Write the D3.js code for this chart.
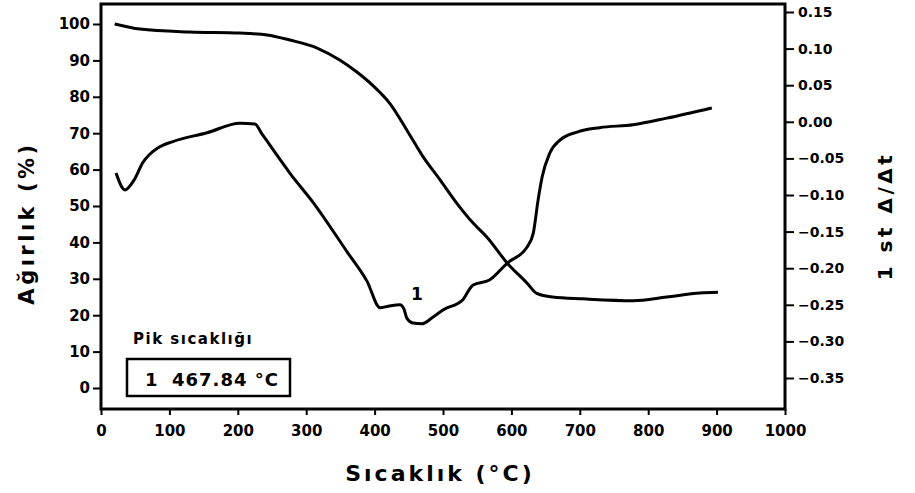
<!DOCTYPE html>
<html>
<head>
<meta charset="utf-8">
<script src="https://cdn.jsdelivr.net/npm/d3@7"></script>
<style>
  body { margin: 0; background: #fff; }
  svg text { font-family: "DejaVu Sans", sans-serif; font-weight: bold; fill: #000; }
</style>
</head>
<body>
<div id="chart"></div>
<script>
// weight loss curve (TG), % vs temperature
const tgTemp = [20, 57, 130, 203, 243, 276, 316, 349, 374, 398, 423, 447, 471, 496, 520, 544, 564, 594, 623, 637, 660, 705, 778, 827, 876, 902];
const tgWeight = [100, 98.6, 97.8, 97.5, 97.0, 95.6, 93.4, 90.1, 86.8, 83.0, 78.0, 70.9, 63.5, 57.1, 50.8, 45.3, 41.5, 34.3, 28.8, 26.0, 25.0, 24.5, 24.0, 25.0, 26.1, 26.3];

// first derivative curve (DTG)
const dtgTemp = [22, 35, 48, 61, 86, 105, 155, 203, 225, 235, 250, 276, 310, 360, 389, 408, 420, 437, 443, 447, 456, 469, 485, 500, 529, 540, 544, 568, 594, 623, 632, 639, 645, 656, 671, 696, 729, 778, 827, 893];
const dtgValue = [-0.070, -0.093, -0.080, -0.056, -0.034, -0.027, -0.015, -0.002, -0.003, -0.016, -0.036, -0.070, -0.110, -0.178, -0.218, -0.254, -0.252, -0.250, -0.256, -0.268, -0.275, -0.276, -0.267, -0.257, -0.243, -0.227, -0.223, -0.216, -0.193, -0.171, -0.152, -0.107, -0.075, -0.043, -0.025, -0.014, -0.008, -0.004, 0.005, 0.019];

const xTicks = [0, 100, 200, 300, 400, 500, 600, 700, 800, 900, 1000];
const leftTicks = [0, 10, 20, 30, 40, 50, 60, 70, 80, 90, 100];
const rightTicks = [0.15, 0.10, 0.05, 0.00, -0.05, -0.10, -0.15, -0.20, -0.25, -0.30, -0.35];

const peakLabel = "1";
const peakTemp = 462;
const peakValue = -0.243;
const legendTitle = "Pik sıcaklığı";
const legendEntry = ["1", "467.84 °C"];

const width = 915, height = 493;
const plot = { left: 101, right: 785, top: 4, bottom: 409 };

const svg = d3.select('#chart').append('svg')
    .attr('width', width)
    .attr('height', height);

const x = d3.scaleLinear().domain([0, 1000]).range([plot.left, plot.right]);
const yL = d3.scaleLinear().domain([0, 100]).range([388, 24]);
const yR = d3.scaleLinear().domain([-0.35, 0.15]).range([378, 12]);

//  frame
svg.append('rect')
    .attr('x', plot.left).attr('y', plot.top)
    .attr('width', plot.right - plot.left).attr('height', plot.bottom - plot.top)
    .attr('fill', 'none').attr('stroke', '#000').attr('stroke-width', 3);

//  axes
const xAxis = svg.append('g')
    .attr('transform', `translate(0,${plot.bottom})`)
    .call(d3.axisBottom(x).tickValues(xTicks).tickSize(6).tickPadding(10).tickFormat(d3.format('d')));

const leftAxis = svg.append('g')
    .attr('transform', `translate(${plot.left},0)`)
    .call(d3.axisLeft(yL).tickValues(leftTicks).tickSize(8).tickPadding(3).tickFormat(d3.format('d')));

const rightAxis = svg.append('g')
    .attr('transform', `translate(${plot.right},0)`)
    .call(d3.axisRight(yR).tickValues(rightTicks).tickSize(9).tickPadding(4).tickFormat(d3.format('.2f')));

[xAxis, leftAxis, rightAxis].forEach(g => {
    g.select('.domain').remove();
    g.selectAll('.tick line').attr('stroke', '#000').attr('stroke-width', 2);
    g.selectAll('.tick text')
        .attr('font-family', '"DejaVu Sans", sans-serif')
        .attr('font-weight', 'bold')
        .attr('font-size', 15)
        .attr('fill', '#000');
});
rightAxis.selectAll('.tick text').attr('font-size', 14);

//  curves
const tgData = tgTemp.map((t, i) => ({ t: t, v: tgWeight[i] }));
const dtgData = dtgTemp.map((t, i) => ({ t: t, v: dtgValue[i] }));

const tgLine = d3.line().x(d => x(d.t)).y(d => yL(d.v)).curve(d3.curveMonotoneX);
const dtgLine = d3.line().x(d => x(d.t)).y(d => yR(d.v)).curve(d3.curveMonotoneX);

svg.append('path').datum(tgData)
    .attr('d', tgLine)
    .attr('fill', 'none').attr('stroke', '#000').attr('stroke-width', 3);

svg.append('path').datum(dtgData)
    .attr('d', dtgLine)
    .attr('fill', 'none').attr('stroke', '#000').attr('stroke-width', 3)
    .attr('stroke-linejoin', 'round');

//  peak marker
svg.append('text')
    .attr('x', x(peakTemp))
    .attr('y', yR(peakValue))
    .attr('font-size', 17)
    .style('text-anchor', 'middle')
    .text(peakLabel);

//  legend box
svg.append('text')
    .attr('x', 133).attr('y', 344)
    .attr('font-size', 15)
    .attr('letter-spacing', 1.5)
    .text(legendTitle);

svg.append('rect')
    .attr('x', 127).attr('y', 359)
    .attr('width', 163).attr('height', 37)
    .attr('fill', 'none').attr('stroke', '#000').attr('stroke-width', 2.5);

svg.append('text')
    .attr('x', 145).attr('y', 386)
    .attr('font-size', 18)
    .text(legendEntry[0]);

svg.append('text')
    .attr('x', 172).attr('y', 386)
    .attr('font-size', 18)
    .attr('letter-spacing', 1)
    .text(legendEntry[1]);

//  axis titles
svg.append('text')
    .attr('x', 440).attr('y', 481)
    .attr('font-size', 22)
    .attr('letter-spacing', 3)
    .style('text-anchor', 'middle')
    .text('Sıcaklık (°C)');

svg.append('text')
    .attr('transform', 'translate(34,223) rotate(-90)')
    .attr('font-size', 21)
    .attr('letter-spacing', 3.5)
    .style('text-anchor', 'middle')
    .text('Ağırlık (%)');

svg.append('text')
    .attr('transform', 'translate(892,216) rotate(-90)')
    .attr('font-size', 20)
    .attr('letter-spacing', 3.5)
    .style('text-anchor', 'middle')
    .text('1 st  Δ/Δt');
</script>
</body>
</html>
